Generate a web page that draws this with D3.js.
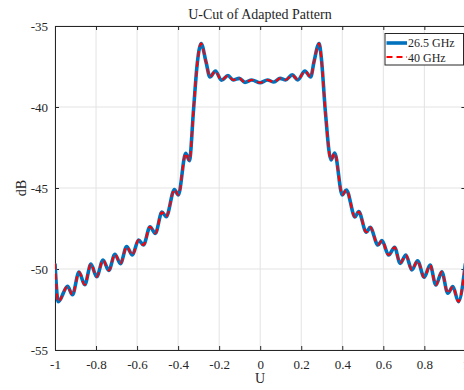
<!DOCTYPE html>
<html><head><meta charset="utf-8">
<script src="https://cdn.jsdelivr.net/npm/d3@7"></script>
<style>body{margin:0;background:#fff;overflow:hidden}svg{display:block}text{font-family:"Liberation Serif","DejaVu Serif",serif;fill:#262626}</style>
</head><body><div id="chart"></div>
<script>
const uValues = [-1.0,-0.984,-0.939,-0.915,-0.883,-0.855,-0.825,-0.797,-0.766,-0.738,-0.708,-0.681,-0.651,-0.623,-0.593,-0.569,-0.537,-0.511,-0.479,-0.458,-0.418,-0.399,-0.363,-0.345,-0.325,-0.308,-0.298,-0.288,-0.264,-0.245,-0.218,-0.189,-0.157,-0.132,-0.102,-0.074,-0.041,0.0,0.035,0.067,0.097,0.124,0.156,0.183,0.218,0.246,0.262,0.287,0.298,0.317,0.345,0.363,0.400,0.420,0.462,0.480,0.517,0.536,0.574,0.593,0.626,0.655,0.682,0.710,0.739,0.767,0.799,0.828,0.856,0.885,0.914,0.939,0.966,1.0];
const dB265 = [-49.66,-52.02,-51.07,-51.59,-50.19,-50.97,-49.70,-50.48,-49.44,-50.09,-49.09,-49.67,-48.62,-49.14,-48.21,-48.52,-47.39,-47.80,-46.49,-46.77,-45.09,-45.43,-42.86,-43.31,-40.19,-37.47,-36.48,-36.08,-37.22,-38.15,-37.78,-38.35,-38.06,-38.33,-38.23,-38.48,-38.33,-38.50,-38.33,-38.46,-38.23,-38.33,-38.02,-38.33,-37.78,-38.15,-37.22,-36.08,-36.98,-40.19,-43.27,-42.84,-45.43,-45.12,-46.79,-46.46,-47.73,-47.43,-48.52,-48.25,-49.14,-48.66,-49.65,-49.14,-50.06,-49.49,-50.51,-49.75,-50.99,-50.17,-51.50,-51.09,-52.02,-49.66];
const dB40 = [-49.66,-52.02,-51.07,-51.59,-50.19,-50.97,-49.70,-50.48,-49.44,-50.09,-49.09,-49.67,-48.62,-49.14,-48.21,-48.52,-47.39,-47.80,-46.49,-46.77,-45.09,-45.43,-42.86,-43.31,-40.19,-37.47,-36.48,-36.08,-37.22,-38.15,-37.78,-38.35,-38.06,-38.33,-38.23,-38.48,-38.33,-38.50,-38.33,-38.46,-38.23,-38.33,-38.02,-38.33,-37.78,-38.15,-37.22,-36.08,-36.98,-40.19,-43.27,-42.84,-45.43,-45.12,-46.79,-46.46,-47.73,-47.43,-48.52,-48.25,-49.14,-48.66,-49.65,-49.14,-50.06,-49.49,-50.51,-49.75,-50.99,-50.17,-51.50,-51.09,-52.02,-49.66];
const xTicks = [-1,-0.8,-0.6,-0.4,-0.2,0,0.2,0.4,0.6,0.8,1];
const xTickLabels = ["-1","-0.8","-0.6","-0.4","-0.2","0","0.2","0.4","0.6","0.8","1"];
const yTicks = [-55,-50,-45,-40,-35];
const yTickLabels = ["-55","-50","-45","-40","-35"];
const seriesNames = ["26.5 GHz","40 GHz"];
const titleText = "U-Cut of Adapted Pattern";

const W = 464, H = 390;
const L = 55, R = 465.4, T = 26, B = 350;
const svg = d3.select("#chart").append("svg").attr("width", W).attr("height", H);
const x = d3.scaleLinear().domain([-1, 1]).range([L, R]);
const y = d3.scaleLinear().domain([-55, -35]).range([B, T]);
const axisColor = "#262626";

// grid
const g = svg.append("g");
g.selectAll(".gx").data(xTicks).enter().append("line")
  .attr("x1", d => x(d)).attr("x2", d => x(d)).attr("y1", T).attr("y2", B)
  .attr("stroke", "#e3e3e3").attr("stroke-width", 1);
g.selectAll(".gy").data(yTicks).enter().append("line")
  .attr("y1", d => y(d)).attr("y2", d => y(d)).attr("x1", L).attr("x2", R)
  .attr("stroke", "#e3e3e3").attr("stroke-width", 1);

// axes
const ax = d3.axisBottom(x).tickValues(xTicks).tickFormat((d, i) => xTickLabels[i]).tickSizeInner(-4).tickSizeOuter(0).tickPadding(10);
const axG = svg.append("g").attr("transform", `translate(0,${B})`).call(ax);
const ay = d3.axisLeft(y).tickValues(yTicks).tickFormat((d, i) => yTickLabels[i]).tickSizeInner(-4).tickSizeOuter(0).tickPadding(7);
const ayG = svg.append("g").attr("transform", `translate(${L},0)`).call(ay);
const axT = svg.append("g").attr("transform", `translate(0,${T})`).call(d3.axisTop(x).tickValues(xTicks).tickFormat("").tickSizeInner(-4).tickSizeOuter(0));
const ayR = svg.append("g").attr("transform", `translate(${R},0)`).call(d3.axisRight(y).tickValues(yTicks).tickFormat("").tickSizeInner(-4).tickSizeOuter(0));
[axG, ayG, axT, ayR].forEach(s => {
  s.select(".domain").attr("stroke", axisColor).attr("stroke-width", 1);
  s.selectAll(".tick line").attr("stroke", axisColor);
  s.selectAll("text").attr("font-size", 13).attr("font-family", "Liberation Serif").attr("fill", axisColor);
});

// lines
const line = d3.line().x(d => x(d[0])).y(d => y(d[1])).curve(d3.curveMonotoneX);
const clip = svg.append("clipPath").attr("id", "clp").append("rect").attr("x", L).attr("y", T).attr("width", R - L).attr("height", B - T);
const lg = svg.append("g").attr("clip-path", "url(#clp)");
lg.append("path").datum(uValues.map((u, i) => [u, dB265[i]])).attr("d", line)
  .attr("fill", "none").attr("stroke", "#0072BD").attr("stroke-width", 3.6).attr("stroke-linejoin", "round");
lg.append("path").datum(uValues.map((u, i) => [u, dB40[i]])).attr("d", line)
  .attr("fill", "none").attr("stroke", "#FF0000").attr("stroke-width", 2).attr("stroke-dasharray", "6,4");

// title & labels
svg.append("text").attr("x", 260).attr("y", 19).attr("text-anchor", "middle").attr("font-size", 14).text(titleText);
svg.append("text").attr("x", 260).attr("y", 383).attr("text-anchor", "middle").attr("font-size", 14).text("U");
svg.append("text").attr("transform", "translate(26,188) rotate(-90)").attr("text-anchor", "middle").attr("font-size", 14).text("dB");

// legend
const leg = svg.append("g");
leg.append("rect").attr("x", 385).attr("y", 33.5).attr("width", 78.5).attr("height", 31.5)
  .attr("fill", "#fff").attr("stroke", axisColor).attr("stroke-width", 1);
leg.append("line").attr("x1", 386.5).attr("x2", 407).attr("y1", 43).attr("y2", 43)
  .attr("stroke", "#0072BD").attr("stroke-width", 3.6);
leg.append("line").attr("x1", 386.5).attr("x2", 407).attr("y1", 57).attr("y2", 57)
  .attr("stroke", "#FF0000").attr("stroke-width", 2).attr("stroke-dasharray", "6,4");
leg.append("text").attr("x", 408).attr("y", 47).attr("font-size", 12).text(seriesNames[0]);
leg.append("text").attr("x", 408).attr("y", 61.5).attr("font-size", 12).text(seriesNames[1]);
</script></body></html>
